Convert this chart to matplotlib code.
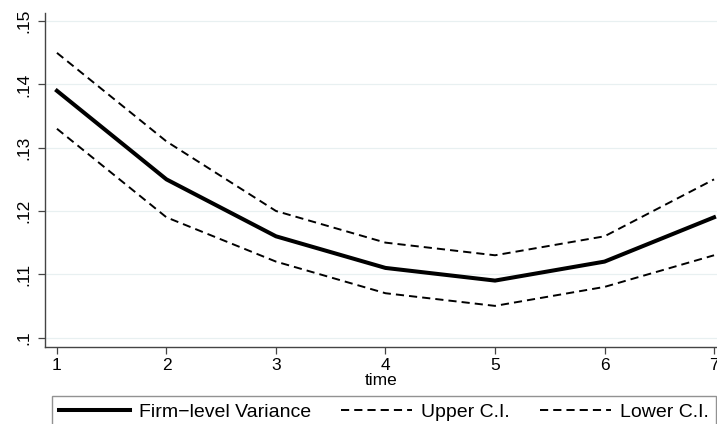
import numpy as np
import matplotlib
matplotlib.use("Agg")
import matplotlib.pyplot as plt

# values
time = [1, 2, 3, 4, 5, 6, 7]
firm_var = [0.139, 0.125, 0.116, 0.111, 0.109, 0.112, 0.119]
upper_ci = [0.145, 0.131, 0.120, 0.115, 0.113, 0.116, 0.125]
lower_ci = [0.133, 0.119, 0.112, 0.107, 0.105, 0.108, 0.113]
yticks = [0.10, 0.11, 0.12, 0.13, 0.14, 0.15]
ytick_labels = [".1", ".11", ".12", ".13", ".14", ".15"]

plt.rcParams['font.family'] = ['Liberation Sans', 'DejaVu Sans']

fig = plt.figure(figsize=(7.17, 4.24), dpi=100)
ax = fig.add_axes([45/717, 1-347/424, 1-45/717, (347-13)/424])

grid_col = '#e8f0f1'
for y in yticks:
    ax.axhline(y, color=grid_col, lw=0.9, zorder=0)

ax.plot(time, firm_var, color='black', lw=2.9, solid_joinstyle='miter',
        label='Firm\u2212level Variance', zorder=3)
ax.plot(time, upper_ci, color='black', lw=1.4, dashes=(4.2, 2.6),
        label='Upper C.I.', zorder=2)
ax.plot(time, lower_ci, color='black', lw=1.4, dashes=(4.2, 2.6),
        label='Lower C.I.', zorder=2)

ax.set_xlim(0.891, 7.027)
ax.set_ylim(0.0985, 0.1513)
ax.set_xticks(time)
ax.set_yticks(yticks)
ax.set_yticklabels(ytick_labels, rotation=90, va='center')
ax.tick_params(axis='both', direction='out', length=5, width=0.9,
               color='#444444', labelsize=12.5)
ax.tick_params(axis='y', pad=5)
ax.tick_params(axis='x', pad=3)
ax.set_xlabel('time', fontsize=12.5, labelpad=0)

for side in ['top', 'right']:
    ax.spines[side].set_visible(False)
for side in ['left', 'bottom']:
    ax.spines[side].set_color('#444444')
    ax.spines[side].set_linewidth(1.0)

leg = fig.legend(loc='upper left', bbox_to_anchor=(52/717, 1-396/424),
                 ncol=3, fontsize=14, frameon=True, fancybox=False,
                 handlelength=3.65, handletextpad=0.45, columnspacing=1.55,
                 borderpad=0.38, borderaxespad=0)
leg.get_frame().set_edgecolor('#777777')
leg.get_frame().set_linewidth(1.0)

fig.savefig('out.png', dpi=100)
